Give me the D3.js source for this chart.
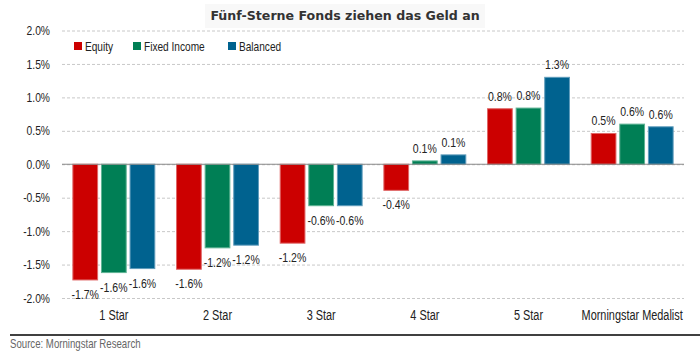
<!DOCTYPE html>
<html><head><meta charset="utf-8">
<script src="https://cdn.jsdelivr.net/npm/d3@7"></script>
<style>
body{margin:0;background:#fff;}
svg{display:block;}
</style>
</head><body>
<svg id="chart" width="700" height="357"></svg>
<script>
const categories = ["1 Star","2 Star","3 Star","4 Star","5 Star","Morningstar Medalist"];
const seriesNames = ["Equity","Fixed Income","Balanced"];
const equity = [-1.73,-1.57,-1.18,-0.39,0.83,0.46];
const fixedIncome = [-1.62,-1.25,-0.62,0.05,0.84,0.60];
const balanced = [-1.56,-1.21,-0.62,0.14,1.30,0.56];
const labelsEquity = ["-1.7%","-1.6%","-1.2%","-0.4%","0.8%","0.5%"];
const labelsFixed = ["-1.6%","-1.2%","-0.6%","0.1%","0.8%","0.6%"];
const labelsBalanced = ["-1.6%","-1.2%","-0.6%","0.1%","1.3%","0.6%"];
const yTicks = [2.0,1.5,1.0,0.5,0.0,-0.5,-1.0,-1.5,-2.0];
const colors = ["#CC0000","#007F55","#00628F"];
const strokes = ["#E06666","#5FB394","#5F9CBB"];

const series = [equity, fixedIncome, balanced];
const labels = [labelsEquity, labelsFixed, labelsBalanced];

const svg = d3.select("#chart");
const font = '"Liberation Sans", Arial, sans-serif';
const SQ = 0.79;

const x0 = d3.scaleBand().domain(categories).range([62,684]).paddingInner(0.2).paddingOuter(0.1);
const x1 = d3.scaleBand().domain(seriesNames).range([0,x0.bandwidth()]).paddingInner(0.1);
const y = d3.scaleLinear().domain([-2,2]).range([298,30.5]);

// title background
svg.append("rect").attr("x",205).attr("y",4).attr("width",280).attr("height",24).attr("fill","#f8f8f8");
svg.append("text").attr("x",345).attr("y",20).attr("text-anchor","middle")
  .attr("font-family","DejaVu Sans, Verdana, sans-serif").attr("font-weight","bold").attr("font-size",12.6)
  .attr("fill","#333").text("Fünf-Sterne Fonds ziehen das Geld an");

// gridlines
const yAxis = d3.axisLeft(y).tickValues(yTicks).tickFormat(d=>d.toFixed(1)+"%").tickSize(-(684-62)).tickPadding(12);
const gy = svg.append("g").attr("transform","translate(62,0)").call(yAxis);
gy.select(".domain").remove();
gy.selectAll(".tick line").attr("stroke","#c8c8c8").attr("stroke-dasharray","3,2").attr("stroke-width",1);
gy.selectAll(".tick text").attr("class","cond").attr("font-family",font).attr("font-size",13).attr("fill","#222");

// bars
const groups = svg.append("g").selectAll("g").data(categories).join("g")
  .attr("transform",d=>`translate(${x0(d)},0)`);
seriesNames.forEach((s,si)=>{
  groups.append("rect")
    .attr("x",x1(s)+0.5)
    .attr("y",(d,i)=>Math.min(y(series[si][i]),y(0)))
    .attr("width",x1.bandwidth()-1)
    .attr("height",(d,i)=>Math.abs(y(series[si][i])-y(0)))
    .attr("fill",colors[si]).attr("stroke",strokes[si]).attr("stroke-width",1);
  groups.append("text").attr("class","cond")
    .attr("x",x1(s)+x1.bandwidth()/2)
    .attr("y",(d,i)=>series[si][i]>=0 ? y(series[si][i])-8 : y(series[si][i])+19)
    .attr("text-anchor","middle").attr("font-family",font).attr("font-size",13.3).attr("fill","#222")
    .text((d,i)=>labels[si][i]);
});

// zero line
svg.append("line").attr("x1",62).attr("x2",684).attr("y1",y(0)).attr("y2",y(0)).attr("stroke","#888").attr("stroke-width",1.2);

// x labels
const xAxis = d3.axisBottom(x0).tickSize(0).tickPadding(0);
const gx = svg.append("g").attr("transform","translate(0,320)").call(xAxis);
gx.select(".domain").remove();
gx.selectAll(".tick text").attr("class","cond").attr("font-family",font).attr("font-size",13.8).attr("fill","#222").attr("dy","0");

// legend
const legX = [74,133,228];
seriesNames.forEach((s,i)=>{
  svg.append("rect").attr("x",legX[i]).attr("y",42).attr("width",8).attr("height",8).attr("fill",colors[i]);
  svg.append("text").attr("class","cond").attr("x",legX[i]+11).attr("y",50.5).attr("font-family",font).attr("font-size",12.8).attr("fill","#222").text(s);
});

// source
svg.append("line").attr("x1",10).attr("x2",700).attr("y1",335).attr("y2",335).attr("stroke","#000").attr("stroke-width",1.5);
svg.append("text").attr("class","cond").attr("x",10).attr("y",347.5).attr("font-family",font).attr("font-size",12.2).attr("fill","#666").text("Source: Morningstar Research");

// condense text to mimic a narrow typeface
svg.selectAll("text.cond").each(function(){
  const len = this.getComputedTextLength();
  d3.select(this).attr("textLength",len*SQ).attr("lengthAdjust","spacingAndGlyphs");
});
</script>
</body></html>
